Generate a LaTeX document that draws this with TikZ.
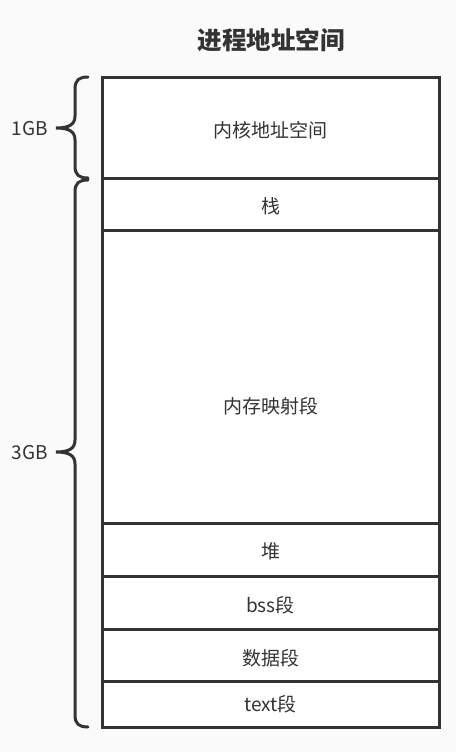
\documentclass[tikz,border=0pt]{standalone}
\usepackage{fontspec}
\setmainfont{Noto Sans CJK SC}
\usepackage{tikz}
\definecolor{bggray}{HTML}{FAFAFA}
\definecolor{linegray}{HTML}{333333}

\begin{document}
\begin{tikzpicture}[x=1pt, y=-1pt,
    seg/.style={draw=linegray, line width=3pt, fill=white},
    segtext/.style={font=\fontsize{19}{23}\selectfont, text=linegray, inner sep=0pt},
    sizetext/.style={font=\fontsize{19}{22}\selectfont, text=linegray, inner sep=0pt, anchor=east},
    brace/.style={draw=linegray, line width=3pt, line cap=round}]
    \fill[bggray] (0,0) rectangle (456,752);
    \useasboundingbox (0,0) rectangle (456,752);
    \node[font=\bfseries\fontsize{24.5}{28}\selectfont, text=linegray] (title) at (271,40) {进程地址空间};
    % the segments, top to bottom
    \foreach \top/\bot/\name/\ty/\txt in {77/178/kernel/130/内核地址空间, 178/230/stack/206/栈,
        230/523/mmap/406/内存映射段, 523/576/heap/551/堆, 576/629/bss/605/bss段,
        629/681/data/658/数据段, 681/727/text/704/text段} {
        \draw[seg] (102,\top) rectangle (439,\bot);
        \node[segtext] (\name) at (270.5,\ty) {\txt};
    }
    % braces
    \draw[brace] (88,77) .. controls (79,77) and (75,80) .. (75,89) -- (75,116)
        .. controls (75,124) and (70,128) .. (56,128)
        .. controls (70,128) and (75,132) .. (75,140) -- (75,166)
        .. controls (75,175) and (79,178) .. (88,178);
    \draw[brace] (88,180) .. controls (79,180) and (75,183) .. (75,192) -- (75,440)
        .. controls (75,448) and (70,452) .. (56,452)
        .. controls (70,452) and (75,456) .. (75,464) -- (75,715)
        .. controls (75,724) and (79,727) .. (88,727);
    \node[sizetext] (onegb) at (48,129) {1GB};
    \node[sizetext] (threegb) at (48,453) {3GB};
\end{tikzpicture}
\end{document}
